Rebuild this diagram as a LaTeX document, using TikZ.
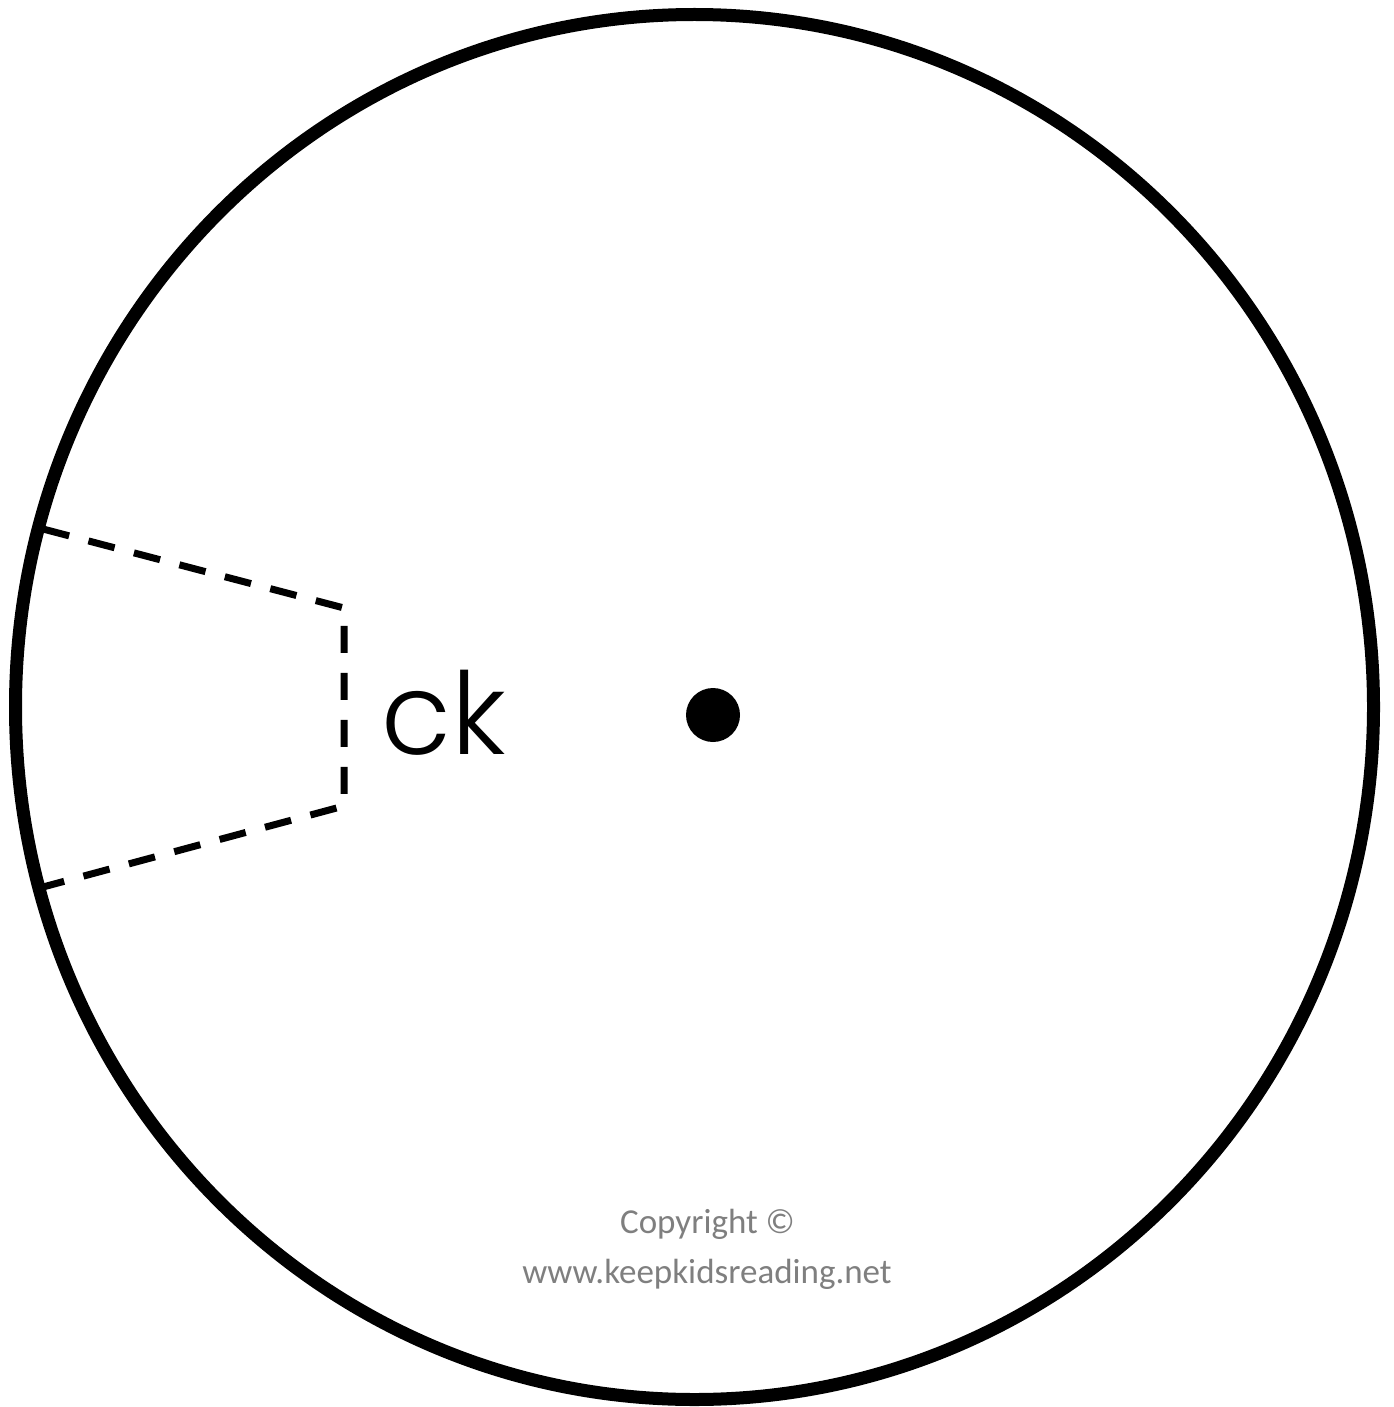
\documentclass[tikz,border=0pt]{standalone}
\usepackage{fontspec}
\setmainfont{Carlito}
\newfontfamily\kidfont{Poppins}[UprightFont=* Light]
\definecolor{notegray}{HTML}{7F7F7F}

\begin{document}
\begin{tikzpicture}[x=0.5pt, y=-0.5pt]
        % \draw[help lines, gray!50, very thin] (0,0) grid[step=100] (1393,1407);
        \useasboundingbox (0,0) rectangle (1393,1407);

        % wheel
        \draw[line width=6.5pt] (694.5,707) ellipse [x radius=339.5pt, y radius=346.25pt];
        \fill[black] (713,715) circle [radius=13.5pt];

        % window to cut out
        \coordinate (wintop) at (43,529);
        \coordinate (winbot) at (43,887);
        \draw[line width=3.5pt, dash pattern=on 13.5pt off 10pt]
          (wintop) -- (344,608) -- (344,806) -- (winbot);

        \node[anchor=base west, inner sep=0pt, font=\kidfont\fontsize{57}{57}\selectfont] (sound) at (381,754) {ck};

        \node[anchor=base, inner sep=0pt, text=notegray, font=\fontsize{17.5}{21}\selectfont] (copy) at (707.5,1233) {Copyright ©};
        \node[anchor=base, inner sep=0pt, text=notegray, font=\fontsize{17.5}{21}\selectfont] (site) at (707,1283) {www.keepkidsreading.net};
      \end{tikzpicture}
\end{document}
